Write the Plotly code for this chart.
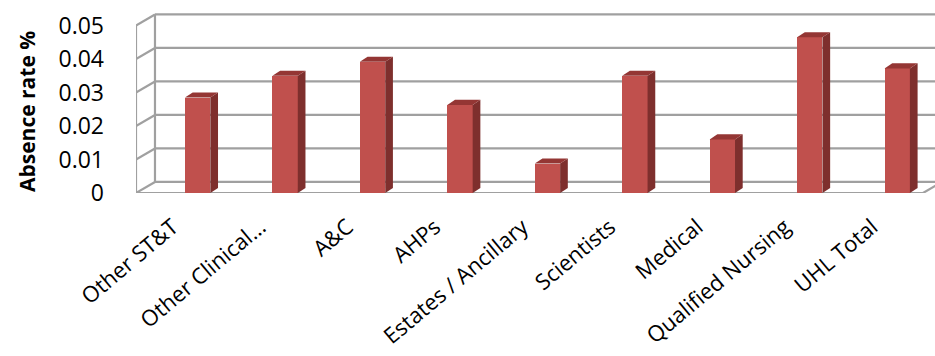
import plotly.graph_objects as go

categories = ["Other ST&T", "Other Clinical…", "A&C", "AHPs", "Estates / Ancillary",
              "Scientists", "Medical", "Qualified Nursing", "UHL Total"]
absence_rate = [0.0285, 0.0350, 0.0392, 0.0263, 0.0088, 0.0350, 0.0160, 0.0465, 0.0372]
y_ticks = [0, 0.01, 0.02, 0.03, 0.04, 0.05]
y_tick_labels = ["0", "0.01", "0.02", "0.03", "0.04", "0.05"]

FRONT = "#C0504D"
SIDE = "#7E2F2D"
TOP = "#943634"
GRID = "#A0A0A0"
FONT = "Open Sans"

# 3-D geometry (data units)
bar_w = 0.29
bar_off = 0.06          # shift of bar front face from category centre
bdx, bdy = 0.088, 0.0015   # bar depth offset
wdx, wdy = 0.217, 0.0033   # wall depth offset
lab_shift = -0.08       # label anchor shift
x_left, x_right = -0.5, len(categories) - 0.5

xs = list(range(len(categories)))
fig = go.Figure()

# front faces
fig.add_trace(go.Bar(
    x=[i + bar_off + bar_w / 2 for i in xs], y=absence_rate, width=bar_w,
    marker=dict(color=FRONT, line=dict(width=0)), hoverinfo="skip", showlegend=False))

# side + top faces
for i, v in zip(xs, absence_rate):
    xr = i + bar_off + bar_w
    xl = i + bar_off
    fig.add_trace(go.Scatter(
        x=[xr, xr + bdx, xr + bdx, xr, xr], y=[0, bdy, v + bdy, v, 0],
        mode="lines", fill="toself", fillcolor=SIDE, line=dict(width=0, color=SIDE),
        hoverinfo="skip", showlegend=False))
    fig.add_trace(go.Scatter(
        x=[xl, xr, xr + bdx, xl + bdx, xl], y=[v, v, v + bdy, v + bdy, v],
        mode="lines", fill="toself", fillcolor=TOP, line=dict(width=0, color=TOP),
        hoverinfo="skip", showlegend=False))

shapes = []
gl = dict(color=GRID, width=2.2)
for v in y_ticks:
    shapes.append(dict(type="line", xref="x", yref="y", x0=x_left, y0=v,
                       x1=x_left + wdx, y1=v + wdy, line=gl, layer="below"))
    shapes.append(dict(type="line", xref="x", yref="y", x0=x_left + wdx, y0=v + wdy,
                       x1=x_right + wdx, y1=v + wdy, line=gl, layer="below"))
# front left axis
shapes.append(dict(type="line", xref="x", yref="y", x0=x_left, y0=0, x1=x_left, y1=y_ticks[-1],
                   line=gl, layer="below"))
# back wall left edge
shapes.append(dict(type="line", xref="x", yref="y", x0=x_left + wdx, y0=wdy,
                   x1=x_left + wdx, y1=y_ticks[-1] + wdy, line=gl, layer="below"))
# floor front edge and right diagonal
shapes.append(dict(type="line", xref="x", yref="y", x0=x_left, y0=0, x1=x_right, y1=0,
                   line=gl, layer="below"))
shapes.append(dict(type="line", xref="x", yref="y", x0=x_right, y0=0,
                   x1=x_right + wdx, y1=wdy, line=gl, layer="below"))

fig.update_layout(
    width=935, height=356,
    margin=dict(l=136, r=0, t=0, b=163),
    paper_bgcolor="white", plot_bgcolor="white",
    shapes=shapes,
    bargap=0,
    font=dict(family=FONT, color="#000000"),
    xaxis=dict(range=[x_left, 8.637], tickmode="array", tickvals=[i + lab_shift for i in xs],
               ticktext=categories,
               tickangle=-40, showgrid=False, zeroline=False, showline=False, ticks="",
               tickfont=dict(size=22, family=FONT), ticklabelstandoff=16, automargin=False),
    yaxis=dict(range=[0, 0.05761], tickmode="array", tickvals=y_ticks, ticktext=y_tick_labels,
               showgrid=False, zeroline=False, showline=False, ticks="",
               tickfont=dict(size=23, family=FONT), ticklabelstandoff=31, automargin=False),
    annotations=[dict(text="<b>Absence rate %</b>", textangle=-90, xref="paper", yref="paper",
                      x=(27 - 136) / 799, y=(193 - 112) / 193, showarrow=False,
                      font=dict(size=21, family=FONT), xanchor="center", yanchor="middle")],
)

fig.write_html("out.html")
